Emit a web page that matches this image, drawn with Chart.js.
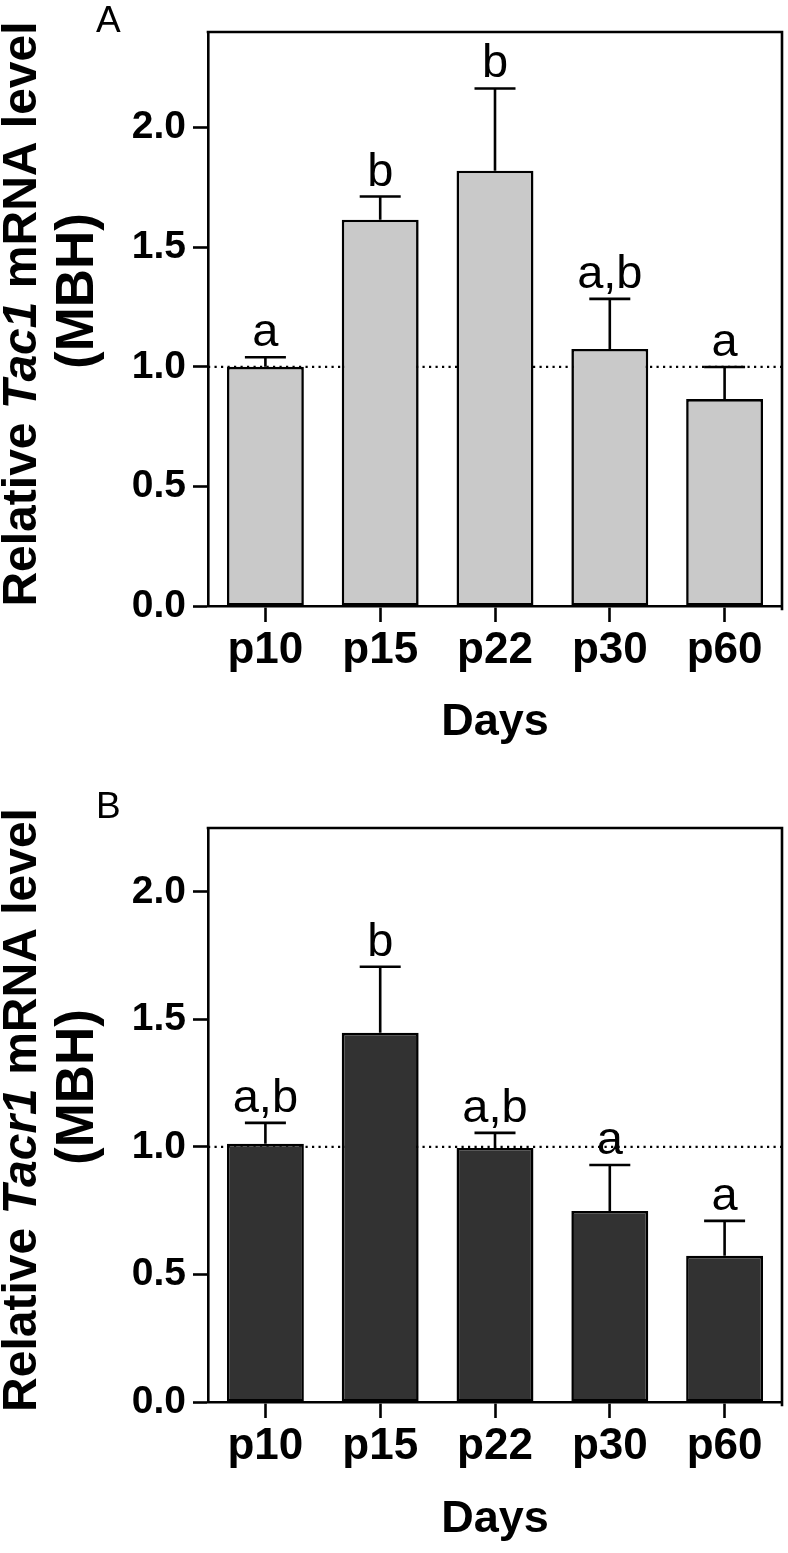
<!DOCTYPE html>
<html>
<head>
<meta charset="utf-8">
<script src="https://cdn.jsdelivr.net/npm/chart.js@4.4.1/dist/chart.umd.min.js"></script>
<style>
  html, body { margin: 0; padding: 0; background: #fff; }
  body { width: 788px; height: 1553px; position: relative; overflow: hidden; }
  .panel { position: absolute; left: 0; width: 788px; }
</style>
</head>
<body>
<div class="panel" style="top:0;height:776px"><canvas id="chartA" width="788" height="776"></canvas></div>
<div class="panel" style="top:776px;height:777px"><canvas id="chartB" width="788" height="777"></canvas></div>
<script>
// --- datos ---
const days = ['p10', 'p15', 'p22', 'p30', 'p60'];
const yTicks = [0, 0.5, 1.0, 1.5, 2.0];

const tac1Mean = [1.00, 1.615, 1.82, 1.075, 0.865];
const tac1Err  = [0.04, 0.097, 0.344, 0.209, 0.134];
const tac1Letters = ['a', 'b', 'b', 'a,b', 'a'];

const tacr1Mean = [1.012, 1.447, 0.996, 0.749, 0.573];
const tacr1Err  = [0.082, 0.259, 0.059, 0.180, 0.137];
const tacr1Letters = ['a,b', 'b', 'a,b', 'a', 'a'];

const FONT = '"Liberation Sans", Arial, Helvetica, sans-serif';

// dibuja barras de error, letras, linea punteada, marco y titulo Y
function extrasPlugin(p) {
  return {
    id: 'extras' + p.tag,
    beforeDatasetsDraw(chart) {
      const { ctx, chartArea: a, scales: { y } } = chart;
      const yy = y.getPixelForValue(1.0);
      ctx.save();
      ctx.strokeStyle = '#000';
      ctx.lineWidth = 2.2;
      ctx.setLineDash([2.2, 4.3]);
      ctx.beginPath();
      ctx.moveTo(a.left, yy);
      ctx.lineTo(a.right, yy);
      ctx.stroke();
      ctx.restore();
    },
    afterDatasetsDraw(chart) {
      const { ctx, chartArea: a, scales: { y } } = chart;
      const meta = chart.getDatasetMeta(0);
      ctx.save();
      ctx.strokeStyle = '#000';
      ctx.fillStyle = '#000';
      ctx.lineWidth = 2.6;

      meta.data.forEach((bar, i) => {
        const top = y.getPixelForValue(p.mean[i]);
        const end = y.getPixelForValue(p.mean[i] + p.err[i]);
        ctx.beginPath();
        ctx.moveTo(bar.x, top);
        ctx.lineTo(bar.x, end);
        ctx.moveTo(bar.x - 20.5, end);
        ctx.lineTo(bar.x + 20.5, end);
        ctx.stroke();

        ctx.font = '47px ' + FONT;
        ctx.textAlign = 'center';
        ctx.textBaseline = 'alphabetic';
        ctx.fillText(p.letters[i], bar.x, end - 11);
      });

      // marco superior y derecho
      ctx.lineCap = 'square';
      ctx.beginPath();
      ctx.moveTo(a.left, a.top);
      ctx.lineTo(a.right, a.top);
      ctx.lineTo(a.right, a.bottom + 3);
      ctx.stroke();

      // letra del panel
      ctx.font = '37px ' + FONT;
      ctx.textAlign = 'left';
      ctx.fillText(p.tag, 96, p.tagY);

      // titulo Y (dos lineas, gen en cursiva)
      const cy = (a.top + a.bottom) / 2;
      const segs = [
        { t: 'Relative ', f: 'bold 48px ' + FONT },
        { t: p.gene, f: 'italic bold 48px ' + FONT },
        { t: ' mRNA level', f: 'bold 48px ' + FONT }
      ];
      ctx.save();
      ctx.translate(23, cy - 5);
      ctx.rotate(-Math.PI / 2);
      ctx.textBaseline = 'middle';
      ctx.textAlign = 'left';
      let total = 0;
      segs.forEach(s => { ctx.font = s.f; s.w = ctx.measureText(s.t).width; total += s.w; });
      let x0 = -total / 2;
      segs.forEach(s => { ctx.font = s.f; ctx.fillText(s.t, x0, 0); x0 += s.w; });
      ctx.restore();

      ctx.save();
      ctx.translate(78, cy - 28);
      ctx.rotate(-Math.PI / 2);
      ctx.textBaseline = 'middle';
      ctx.textAlign = 'center';
      ctx.font = 'bold 53px ' + FONT;
      ctx.fillText('(MBH)', 0, 0);
      ctx.restore();

      ctx.restore();
    }
  };
}

function makePanel(p) {
  return new Chart(document.getElementById(p.canvas), {
    type: 'bar',
    data: {
      labels: days,
      datasets: [{
        data: p.mean,
        backgroundColor: p.fill,
        borderColor: '#000',
        borderWidth: 2.6,
        borderSkipped: false,
        barPercentage: 0.67,
        categoryPercentage: 1
      }]
    },
    options: {
      responsive: false,
      animation: false,
      devicePixelRatio: 1,
      layout: { padding: { top: p.plotTop, right: 6, left: 0, bottom: 0 } },
      plugins: { legend: { display: false }, tooltip: { enabled: false } },
      scales: {
        x: {
          z: 1,
          grid: { display: true, drawOnChartArea: false, offset: false, tickLength: 16, tickWidth: 2.6, tickColor: '#000' },
          border: { display: true, color: '#000', width: 2.6 },
          ticks: { color: '#000', font: { family: FONT, size: 44, weight: 'bold' }, padding: 2, maxRotation: 0, autoSkip: false },
          title: { display: true, text: 'Days', color: '#000', font: { family: FONT, size: 45, weight: 'bold' }, padding: { top: 0, bottom: p.daysPad } },
          afterFit: s => { s.height = p.height - p.plotBottom; }
        },
        y: {
          z: 1,
          min: 0,
          max: p.yMax,
          grid: { display: true, drawOnChartArea: false, tickLength: 15, tickWidth: 2.6, tickColor: '#000' },
          border: { display: true, color: '#000', width: 2.6 },
          ticks: { color: '#000', font: { family: FONT, size: 39, weight: 'bold' }, padding: 7, callback: v => v.toFixed(1) },
          afterBuildTicks: s => { s.ticks = yTicks.map(v => ({ value: v })); },
          afterFit: s => { s.width = 208; }
        }
      }
    },
    plugins: [extrasPlugin(p)]
  });
}

makePanel({
  tag: 'A', canvas: 'chartA', gene: 'Tac1', height: 776, plotTop: 32, plotBottom: 606, yMax: 2.4,
  mean: tac1Mean, err: tac1Err, letters: tac1Letters, fill: '#c9c9c9', tagY: 32, daysPad: 26
});
makePanel({
  tag: 'B', canvas: 'chartB', gene: 'Tacr1', height: 777, plotTop: 52, plotBottom: 626, yMax: 2.25,
  mean: tacr1Mean, err: tacr1Err, letters: tacr1Letters, fill: '#323232', tagY: 42, daysPad: 6
});
</script>
</body>
</html>
